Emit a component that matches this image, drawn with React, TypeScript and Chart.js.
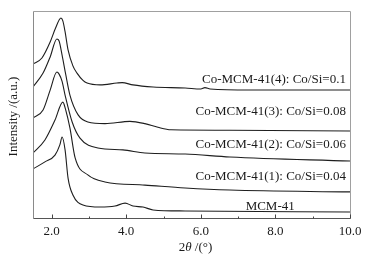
import React, { useEffect, useRef } from 'react';
import { Chart, registerables } from 'chart.js';

Chart.register(...registerables);

// ---- data (2θ in degrees, intensity in arbitrary units incl. vertical offset) ----
const co4: [number, number][] = [
  [1.5, 74.4], [1.74, 77.3], [1.96, 85.0], [2.1, 91.5], [2.25, 96.6], [2.3, 95.2], [2.36, 90.0],
  [2.44, 81.2], [2.57, 73.5], [2.68, 70.0], [2.84, 66.5], [2.95, 65.2], [3.3, 64.3], [3.75, 65.2],
  [3.89, 65.4], [4.18, 64.3], [4.72, 63.3], [5.58, 62.8], [6.0, 62.3], [6.11, 63.0], [6.25, 62.3],
  [7.32, 61.8], [10, 61.8],
];
const co3: [number, number][] = [
  [1.5, 63.3], [1.77, 70.0], [1.96, 77.8], [2.14, 86.5], [2.2, 85.5], [2.28, 78.7], [2.38, 69.1],
  [2.49, 59.4], [2.71, 49.8], [2.97, 46.4], [3.43, 45.6], [4.1, 46.7], [4.5, 45.6], [4.85, 43.8],
  [5.2, 42.6], [6.78, 42.4], [10, 42.0],
];
const co2: [number, number][] = [
  [1.5, 48.3], [1.77, 52.2], [1.96, 61.8], [2.14, 70.5], [2.2, 69.5], [2.28, 66.0], [2.36, 59.4],
  [2.55, 46.4], [2.76, 38.6], [3.24, 33.8], [3.91, 32.9], [4.5, 31.4], [5.58, 30.9], [6.78, 29.5],
  [10, 27.5],
];
const co1: [number, number][] = [
  [1.5, 31.4], [1.82, 37.7], [2.09, 47.3], [2.3, 56.0], [2.38, 52.0], [2.49, 43.5], [2.63, 29.0],
  [2.97, 20.8], [3.43, 17.4], [4.5, 15.9], [5.58, 14.5], [6.78, 13.5], [10, 12.6],
];
const mcm: [number, number][] = [
  [1.5, 23.7], [1.82, 27.1], [2.09, 30.4], [2.22, 35.3], [2.28, 39.1], [2.36, 32.9], [2.44, 19.3],
  [2.57, 11.1], [2.84, 6.3], [3.3, 5.3], [3.7, 5.8], [3.97, 7.2], [4.18, 5.8], [4.45, 5.3],
  [4.72, 3.9], [5.58, 3.4], [10, 2.9],
];

const seriesList = [co4, co3, co2, co1, mcm];
const labelTexts = [
  'Co-MCM-41(4): Co/Si=0.1',
  'Co-MCM-41(3): Co/Si=0.08',
  'Co-MCM-41(2): Co/Si=0.06',
  'Co-MCM-41(1): Co/Si=0.04',
  'MCM-41',
];
const labelX = [9.89, 9.89, 9.89, 9.89, 7.86];
const labelY = [66.7, 51.2, 35.3, 19.8, 5.3];
const labelAlign: CanvasTextAlign[] = ['right', 'right', 'right', 'right', 'center'];

const xMajorTicks = [2, 4, 6, 8, 10];
const xMinorTicks = [3, 5, 7, 9];
const xMin = 1.5;
const xMax = 10;
const yMin = 0;
const yMax = 100;

const yTitle = 'Intensity /(a.u.)';
const xTitleParts = [
  { t: '2', italic: false },
  { t: 'θ', italic: true },
  { t: ' /(°)', italic: false },
];

const FONT = '"Liberation Serif", "Times New Roman", Times, serif';
const TEXT = '#1a1a1a';

const decorPlugin = {
  id: 'decor',
  afterDatasetsDraw(chart: any) {
    const { ctx, chartArea, scales } = chart;
    const { left, right, top, bottom } = chartArea;
    const xs = scales.x;
    const ys = scales.y;
    ctx.save();
    ctx.lineWidth = 1;
    const L = Math.round(left) + 0.5;
    const R = Math.round(right) + 0.5;
    const T = Math.round(top) + 0.5;
    const B = Math.round(bottom) + 0.5;
    ctx.strokeStyle = '#a0a0a0';
    ctx.beginPath();
    ctx.moveTo(L, T); ctx.lineTo(R, T); ctx.lineTo(R, B);
    ctx.stroke();
    ctx.strokeStyle = '#8a8a8a';
    ctx.beginPath();
    ctx.moveTo(L, T); ctx.lineTo(L, B);
    ctx.stroke();
    ctx.strokeStyle = '#555';
    ctx.beginPath();
    ctx.moveTo(L, B); ctx.lineTo(R, B);
    ctx.stroke();
    ctx.strokeStyle = '#444';
    xMajorTicks.forEach((v) => {
      const px = Math.round(xs.getPixelForValue(v)) + 0.5;
      ctx.beginPath(); ctx.moveTo(px, B); ctx.lineTo(px, B - 4); ctx.stroke();
    });
    xMinorTicks.forEach((v) => {
      const px = Math.round(xs.getPixelForValue(v)) + 0.5;
      ctx.beginPath(); ctx.moveTo(px, B); ctx.lineTo(px, B - 2); ctx.stroke();
    });
    ctx.fillStyle = TEXT;
    ctx.font = `13px ${FONT}`;
    ctx.textBaseline = 'middle';
    labelTexts.forEach((t, i) => {
      ctx.textAlign = labelAlign[i];
      ctx.fillText(t, xs.getPixelForValue(labelX[i]), ys.getPixelForValue(labelY[i]));
    });
    ctx.save();
    ctx.translate(14, (top + bottom) / 2 + 2);
    ctx.rotate(-Math.PI / 2);
    ctx.textAlign = 'center';
    ctx.textBaseline = 'middle';
    ctx.font = `13px ${FONT}`;
    ctx.fillText(yTitle, 0, 0);
    ctx.restore();
    const widths = xTitleParts.map((p) => {
      ctx.font = `${p.italic ? 'italic ' : ''}13px ${FONT}`;
      return ctx.measureText(p.t).width;
    });
    const total = widths.reduce((a, b) => a + b, 0);
    let cx = (left + right) / 2 + 4 - total / 2;
    ctx.textAlign = 'left';
    ctx.textBaseline = 'middle';
    xTitleParts.forEach((p, i) => {
      ctx.font = `${p.italic ? 'italic ' : ''}13px ${FONT}`;
      ctx.fillText(p.t, cx, 248);
      cx += widths[i];
    });
    ctx.restore();
  },
};

export default function App() {
  const ref = useRef<HTMLCanvasElement | null>(null);
  useEffect(() => {
    document.body.style.margin = '0';
    const canvas = ref.current;
    if (!canvas) return;
    const chart = new Chart(canvas, {
      type: 'line',
      data: {
        datasets: seriesList.map((s) => ({
          data: s.map(([x, y]) => ({ x, y })),
          borderColor: '#1e1e1e',
          borderWidth: 1.1,
          pointRadius: 0,
          fill: false,
          cubicInterpolationMode: 'monotone' as const,
        })),
      },
      options: {
        animation: false,
        responsive: false,
        devicePixelRatio: 1,
        layout: { padding: { left: 33, right: 20, top: 11, bottom: 0 } },
        plugins: { legend: { display: false }, tooltip: { enabled: false } },
        scales: {
          x: {
            type: 'linear',
            min: xMin,
            max: xMax,
            afterBuildTicks: (s: any) => {
              s.ticks = xMajorTicks.map((v) => ({ value: v }));
            },
            afterFit: (s: any) => {
              s.height = 40;
            },
            grid: { display: false, drawTicks: false },
            border: { display: false },
            ticks: {
              callback: (v: any) => Number(v).toFixed(1),
              font: { family: FONT, size: 13 },
              color: TEXT,
              padding: 6,
              maxRotation: 0,
              autoSkip: false,
            },
          },
          y: { display: false, min: yMin, max: yMax },
        },
      },
      plugins: [decorPlugin],
    });
    return () => chart.destroy();
  }, []);
  return (
    <div style={{ width: 370, height: 258, background: '#fff' }}>
      <canvas ref={ref} width={370} height={258} />
    </div>
  );
}
